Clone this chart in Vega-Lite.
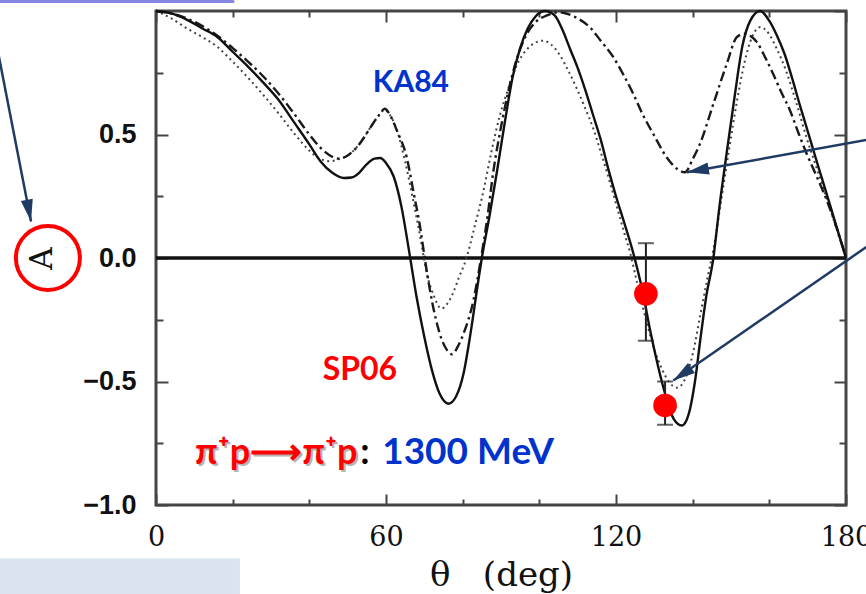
{
  "$schema": "https://vega.github.io/schema/vega-lite/v6.json",
  "width": 690,
  "height": 494,
  "autosize": {"type": "none"},
  "padding": {"left": 156, "top": 11, "right": 20, "bottom": 89},
  "background": "white",
  "config": {
    "view": {"stroke": "#454545", "strokeWidth": 3},
    "axis": {"grid": false, "domain": false}
  },
  "datasets": {
    "fits": [
      {"fit": "SP06", "theta": 0, "A": 1.0}, {"fit": "SP06", "theta": 4, "A": 0.99}, {"fit": "SP06", "theta": 8, "A": 0.965},
      {"fit": "SP06", "theta": 12, "A": 0.93}, {"fit": "SP06", "theta": 16, "A": 0.895}, {"fit": "SP06", "theta": 20, "A": 0.835},
      {"fit": "SP06", "theta": 24, "A": 0.775}, {"fit": "SP06", "theta": 28, "A": 0.71}, {"fit": "SP06", "theta": 32, "A": 0.64},
      {"fit": "SP06", "theta": 36, "A": 0.55}, {"fit": "SP06", "theta": 40, "A": 0.46}, {"fit": "SP06", "theta": 43, "A": 0.39},
      {"fit": "SP06", "theta": 46, "A": 0.345}, {"fit": "SP06", "theta": 49, "A": 0.324}, {"fit": "SP06", "theta": 51, "A": 0.326},
      {"fit": "SP06", "theta": 53, "A": 0.345}, {"fit": "SP06", "theta": 55, "A": 0.38}, {"fit": "SP06", "theta": 57, "A": 0.402},
      {"fit": "SP06", "theta": 58.5, "A": 0.405}, {"fit": "SP06", "theta": 60, "A": 0.385}, {"fit": "SP06", "theta": 62, "A": 0.33},
      {"fit": "SP06", "theta": 64, "A": 0.21}, {"fit": "SP06", "theta": 66, "A": 0.03}, {"fit": "SP06", "theta": 68, "A": -0.16},
      {"fit": "SP06", "theta": 70, "A": -0.32}, {"fit": "SP06", "theta": 72, "A": -0.455}, {"fit": "SP06", "theta": 74, "A": -0.55},
      {"fit": "SP06", "theta": 76.3, "A": -0.59}, {"fit": "SP06", "theta": 78.3, "A": -0.56}, {"fit": "SP06", "theta": 80.2, "A": -0.47},
      {"fit": "SP06", "theta": 82, "A": -0.31}, {"fit": "SP06", "theta": 84, "A": -0.1}, {"fit": "SP06", "theta": 85, "A": 0.0},
      {"fit": "SP06", "theta": 87, "A": 0.17}, {"fit": "SP06", "theta": 89, "A": 0.355}, {"fit": "SP06", "theta": 91, "A": 0.55},
      {"fit": "SP06", "theta": 93, "A": 0.73}, {"fit": "SP06", "theta": 95, "A": 0.85}, {"fit": "SP06", "theta": 97, "A": 0.93},
      {"fit": "SP06", "theta": 99, "A": 0.978}, {"fit": "SP06", "theta": 101.5, "A": 1.0}, {"fit": "SP06", "theta": 104, "A": 0.982},
      {"fit": "SP06", "theta": 106, "A": 0.925}, {"fit": "SP06", "theta": 108, "A": 0.847}, {"fit": "SP06", "theta": 110, "A": 0.77},
      {"fit": "SP06", "theta": 112, "A": 0.68}, {"fit": "SP06", "theta": 114, "A": 0.58}, {"fit": "SP06", "theta": 116, "A": 0.48},
      {"fit": "SP06", "theta": 118, "A": 0.36}, {"fit": "SP06", "theta": 120, "A": 0.25}, {"fit": "SP06", "theta": 122, "A": 0.15},
      {"fit": "SP06", "theta": 124.5, "A": 0.02}, {"fit": "SP06", "theta": 127, "A": -0.14}, {"fit": "SP06", "theta": 129, "A": -0.3},
      {"fit": "SP06", "theta": 131, "A": -0.44}, {"fit": "SP06", "theta": 133, "A": -0.56}, {"fit": "SP06", "theta": 135, "A": -0.65},
      {"fit": "SP06", "theta": 137.2, "A": -0.678}, {"fit": "SP06", "theta": 139, "A": -0.63}, {"fit": "SP06", "theta": 140.6, "A": -0.5},
      {"fit": "SP06", "theta": 142, "A": -0.33}, {"fit": "SP06", "theta": 143.5, "A": -0.16}, {"fit": "SP06", "theta": 145.4, "A": 0.0},
      {"fit": "SP06", "theta": 147, "A": 0.21}, {"fit": "SP06", "theta": 149, "A": 0.44}, {"fit": "SP06", "theta": 151, "A": 0.66},
      {"fit": "SP06", "theta": 153, "A": 0.86}, {"fit": "SP06", "theta": 155, "A": 0.96}, {"fit": "SP06", "theta": 157.6, "A": 1.0},
      {"fit": "SP06", "theta": 160, "A": 0.96}, {"fit": "SP06", "theta": 162, "A": 0.9}, {"fit": "SP06", "theta": 164, "A": 0.825},
      {"fit": "SP06", "theta": 166, "A": 0.725}, {"fit": "SP06", "theta": 168, "A": 0.617}, {"fit": "SP06", "theta": 170, "A": 0.514},
      {"fit": "SP06", "theta": 172, "A": 0.41}, {"fit": "SP06", "theta": 174, "A": 0.308}, {"fit": "SP06", "theta": 176, "A": 0.206},
      {"fit": "SP06", "theta": 178, "A": 0.103}, {"fit": "SP06", "theta": 180, "A": 0.0},

      {"fit": "KA84", "theta": 0, "A": 1.0}, {"fit": "KA84", "theta": 4, "A": 0.99}, {"fit": "KA84", "theta": 8, "A": 0.97},
      {"fit": "KA84", "theta": 12, "A": 0.94}, {"fit": "KA84", "theta": 16, "A": 0.9}, {"fit": "KA84", "theta": 20, "A": 0.85},
      {"fit": "KA84", "theta": 24, "A": 0.795}, {"fit": "KA84", "theta": 28, "A": 0.735}, {"fit": "KA84", "theta": 32, "A": 0.665},
      {"fit": "KA84", "theta": 36, "A": 0.585}, {"fit": "KA84", "theta": 40, "A": 0.5}, {"fit": "KA84", "theta": 43, "A": 0.445},
      {"fit": "KA84", "theta": 46, "A": 0.41}, {"fit": "KA84", "theta": 48, "A": 0.402}, {"fit": "KA84", "theta": 50, "A": 0.415},
      {"fit": "KA84", "theta": 53, "A": 0.46}, {"fit": "KA84", "theta": 56, "A": 0.53}, {"fit": "KA84", "theta": 58, "A": 0.575},
      {"fit": "KA84", "theta": 59.7, "A": 0.604}, {"fit": "KA84", "theta": 61, "A": 0.58}, {"fit": "KA84", "theta": 63, "A": 0.51},
      {"fit": "KA84", "theta": 65.4, "A": 0.408}, {"fit": "KA84", "theta": 67.1, "A": 0.273}, {"fit": "KA84", "theta": 68.9, "A": 0.125},
      {"fit": "KA84", "theta": 70.2, "A": -0.01}, {"fit": "KA84", "theta": 72, "A": -0.175}, {"fit": "KA84", "theta": 74, "A": -0.305},
      {"fit": "KA84", "theta": 76, "A": -0.375}, {"fit": "KA84", "theta": 77.2, "A": -0.39}, {"fit": "KA84", "theta": 79, "A": -0.35},
      {"fit": "KA84", "theta": 80.2, "A": -0.307}, {"fit": "KA84", "theta": 82.8, "A": -0.172}, {"fit": "KA84", "theta": 84.8, "A": 0.0},
      {"fit": "KA84", "theta": 86.5, "A": 0.17}, {"fit": "KA84", "theta": 88, "A": 0.35}, {"fit": "KA84", "theta": 90, "A": 0.53},
      {"fit": "KA84", "theta": 92, "A": 0.68}, {"fit": "KA84", "theta": 94, "A": 0.8}, {"fit": "KA84", "theta": 96.5, "A": 0.9},
      {"fit": "KA84", "theta": 99, "A": 0.955}, {"fit": "KA84", "theta": 102, "A": 0.982}, {"fit": "KA84", "theta": 105, "A": 0.995},
      {"fit": "KA84", "theta": 107, "A": 0.99}, {"fit": "KA84", "theta": 110, "A": 0.97}, {"fit": "KA84", "theta": 113.2, "A": 0.934},
      {"fit": "KA84", "theta": 116, "A": 0.88}, {"fit": "KA84", "theta": 119.3, "A": 0.813}, {"fit": "KA84", "theta": 122, "A": 0.74},
      {"fit": "KA84", "theta": 124.5, "A": 0.665}, {"fit": "KA84", "theta": 127, "A": 0.58}, {"fit": "KA84", "theta": 129.7, "A": 0.503},
      {"fit": "KA84", "theta": 133.2, "A": 0.408}, {"fit": "KA84", "theta": 136, "A": 0.36}, {"fit": "KA84", "theta": 138, "A": 0.347},
      {"fit": "KA84", "theta": 140, "A": 0.4}, {"fit": "KA84", "theta": 141.9, "A": 0.462}, {"fit": "KA84", "theta": 145.4, "A": 0.624},
      {"fit": "KA84", "theta": 148.9, "A": 0.786}, {"fit": "KA84", "theta": 151.5, "A": 0.894}, {"fit": "KA84", "theta": 153.5, "A": 0.908},
      {"fit": "KA84", "theta": 155, "A": 0.9}, {"fit": "KA84", "theta": 156.7, "A": 0.875}, {"fit": "KA84", "theta": 159, "A": 0.81},
      {"fit": "KA84", "theta": 161, "A": 0.745}, {"fit": "KA84", "theta": 163, "A": 0.675}, {"fit": "KA84", "theta": 165.4, "A": 0.597},
      {"fit": "KA84", "theta": 167.5, "A": 0.51}, {"fit": "KA84", "theta": 169.8, "A": 0.42}, {"fit": "KA84", "theta": 172.5, "A": 0.325},
      {"fit": "KA84", "theta": 175, "A": 0.233}, {"fit": "KA84", "theta": 177.5, "A": 0.125}, {"fit": "KA84", "theta": 180, "A": 0.0},

      {"fit": "alt", "theta": 0, "A": 1.0}, {"fit": "alt", "theta": 4, "A": 0.97}, {"fit": "alt", "theta": 8, "A": 0.93},
      {"fit": "alt", "theta": 12, "A": 0.895}, {"fit": "alt", "theta": 16, "A": 0.855}, {"fit": "alt", "theta": 20, "A": 0.795},
      {"fit": "alt", "theta": 24, "A": 0.73}, {"fit": "alt", "theta": 28, "A": 0.66}, {"fit": "alt", "theta": 32, "A": 0.585},
      {"fit": "alt", "theta": 36, "A": 0.505}, {"fit": "alt", "theta": 40, "A": 0.435}, {"fit": "alt", "theta": 43, "A": 0.4},
      {"fit": "alt", "theta": 45.5, "A": 0.392}, {"fit": "alt", "theta": 48, "A": 0.402}, {"fit": "alt", "theta": 50, "A": 0.415},
      {"fit": "alt", "theta": 53, "A": 0.46}, {"fit": "alt", "theta": 56, "A": 0.53}, {"fit": "alt", "theta": 58, "A": 0.575},
      {"fit": "alt", "theta": 59.7, "A": 0.6}, {"fit": "alt", "theta": 61, "A": 0.58}, {"fit": "alt", "theta": 63, "A": 0.51},
      {"fit": "alt", "theta": 65, "A": 0.39}, {"fit": "alt", "theta": 67, "A": 0.24}, {"fit": "alt", "theta": 69, "A": 0.08},
      {"fit": "alt", "theta": 70.6, "A": -0.06}, {"fit": "alt", "theta": 72.3, "A": -0.145}, {"fit": "alt", "theta": 74.5, "A": -0.205},
      {"fit": "alt", "theta": 76, "A": -0.185}, {"fit": "alt", "theta": 77.4, "A": -0.145}, {"fit": "alt", "theta": 79, "A": -0.08},
      {"fit": "alt", "theta": 81, "A": 0.0}, {"fit": "alt", "theta": 83, "A": 0.12}, {"fit": "alt", "theta": 85.4, "A": 0.27},
      {"fit": "alt", "theta": 87.5, "A": 0.43}, {"fit": "alt", "theta": 89.7, "A": 0.577}, {"fit": "alt", "theta": 92, "A": 0.69},
      {"fit": "alt", "theta": 94.1, "A": 0.78}, {"fit": "alt", "theta": 96.5, "A": 0.84}, {"fit": "alt", "theta": 99, "A": 0.872},
      {"fit": "alt", "theta": 101, "A": 0.88}, {"fit": "alt", "theta": 103, "A": 0.865}, {"fit": "alt", "theta": 105.4, "A": 0.82},
      {"fit": "alt", "theta": 107.5, "A": 0.76}, {"fit": "alt", "theta": 109.8, "A": 0.685}, {"fit": "alt", "theta": 112, "A": 0.605},
      {"fit": "alt", "theta": 114.1, "A": 0.523}, {"fit": "alt", "theta": 116, "A": 0.43}, {"fit": "alt", "theta": 118.4, "A": 0.307},
      {"fit": "alt", "theta": 120, "A": 0.22}, {"fit": "alt", "theta": 122, "A": 0.11}, {"fit": "alt", "theta": 123.7, "A": 0.02},
      {"fit": "alt", "theta": 125.5, "A": -0.1}, {"fit": "alt", "theta": 128, "A": -0.26}, {"fit": "alt", "theta": 130, "A": -0.37},
      {"fit": "alt", "theta": 132, "A": -0.45}, {"fit": "alt", "theta": 134, "A": -0.505}, {"fit": "alt", "theta": 136, "A": -0.525},
      {"fit": "alt", "theta": 138, "A": -0.49}, {"fit": "alt", "theta": 140, "A": -0.39}, {"fit": "alt", "theta": 142, "A": -0.23},
      {"fit": "alt", "theta": 144, "A": -0.07}, {"fit": "alt", "theta": 145.6, "A": 0.05}, {"fit": "alt", "theta": 147.5, "A": 0.24},
      {"fit": "alt", "theta": 149.5, "A": 0.44}, {"fit": "alt", "theta": 151.5, "A": 0.63}, {"fit": "alt", "theta": 153.5, "A": 0.79},
      {"fit": "alt", "theta": 155.5, "A": 0.895}, {"fit": "alt", "theta": 157.7, "A": 0.935}, {"fit": "alt", "theta": 160, "A": 0.905},
      {"fit": "alt", "theta": 162, "A": 0.845}, {"fit": "alt", "theta": 164.5, "A": 0.752}, {"fit": "alt", "theta": 167, "A": 0.63},
      {"fit": "alt", "theta": 169.8, "A": 0.483}, {"fit": "alt", "theta": 172, "A": 0.38}, {"fit": "alt", "theta": 175, "A": 0.24},
      {"fit": "alt", "theta": 177.5, "A": 0.12}, {"fit": "alt", "theta": 180, "A": 0.0}
    ],
    "obs": [
      {"theta": 127.8, "A": -0.145, "lo": -0.335, "hi": 0.06},
      {"theta": 132.8, "A": -0.597, "lo": -0.675, "hi": -0.5}
    ],
    "pointers": [
      {"id": "title", "theta": -43.8, "A": 1.04, "theta2": -32.6, "A2": 0.148},
      {"id": "ka84", "theta": 188.9, "A": 0.488, "theta2": 138.5, "A2": 0.347},
      {"id": "sp06", "theta": 188.9, "A": 0.083, "theta2": 134.96, "A2": -0.496}
    ]
  },
  "resolve": {"axis": {"x": "independent", "y": "independent"}},
  "layer": [
    {
      "description": "pale panel at the lower left",
      "data": {"values": [{"theta": -41, "theta2": 21.9, "A": -1.217, "A2": -1.42}]},
      "mark": {"type": "rect", "color": "#dae3f0", "clip": false},
      "encoding": {
        "x": {"field": "theta", "type": "quantitative", "scale": {"domain": [0, 180], "nice": false, "zero": false}, "axis": null},
        "x2": {"field": "theta2"},
        "y": {"field": "A", "type": "quantitative", "scale": {"domain": [-1, 1], "nice": false, "zero": false}, "axis": null},
        "y2": {"field": "A2"}
      }
    },
    {
      "description": "edge of the box above the plot",
      "data": {"values": [{"theta": -41, "theta2": 20.1, "A": 1.0385}]},
      "mark": {"type": "rule", "color": "#8585e2", "strokeWidth": 3, "strokeCap": "round", "clip": false},
      "encoding": {
        "x": {"field": "theta", "type": "quantitative", "axis": null},
        "x2": {"field": "theta2"},
        "y": {"field": "A", "type": "quantitative", "axis": null}
      }
    },
    {
      "description": "A = 0 reference line",
      "data": {"values": [{"A": 0}]},
      "mark": {"type": "rule", "color": "#111", "strokeWidth": 3.5},
      "encoding": {
        "y": {"field": "A", "type": "quantitative", "axis": null}
      }
    },
    {
      "description": "dotted fit; carries the minor ticks on the bottom and left",
      "data": {"name": "fits"},
      "transform": [{"filter": "datum.fit === 'alt'"}],
      "mark": {"type": "line", "color": "#444", "strokeWidth": 2, "strokeDash": [2, 3.5], "interpolate": "monotone"},
      "encoding": {
        "x": {
          "field": "theta", "type": "quantitative",
          "axis": {"orient": "bottom", "values": [20, 40, 80, 100, 140, 160], "labels": false, "title": null,
                   "domain": false, "grid": false, "tickColor": "#444", "tickWidth": 2, "tickSize": -6}
        },
        "y": {
          "field": "A", "type": "quantitative",
          "axis": {"orient": "left", "values": [-0.75, -0.25, 0.25, 0.75], "labels": false, "title": null,
                   "domain": false, "grid": false, "tickColor": "#444", "tickWidth": 2, "tickSize": -7}
        }
      }
    },
    {
      "description": "KA84, dash-dot; carries the major ticks on the top and right",
      "data": {"name": "fits"},
      "transform": [{"filter": "datum.fit === 'KA84'"}],
      "mark": {"type": "line", "color": "#1a1a1a", "strokeWidth": 2.4, "strokeDash": [10, 4, 2.5, 4], "interpolate": "monotone"},
      "encoding": {
        "x": {
          "field": "theta", "type": "quantitative",
          "axis": {"orient": "top", "values": [0, 60, 120, 180], "labels": false, "title": null,
                   "domain": false, "grid": false, "tickColor": "#444", "tickWidth": 2, "tickSize": -11}
        },
        "y": {
          "field": "A", "type": "quantitative",
          "axis": {"orient": "right", "values": [-1, -0.5, 0, 0.5, 1], "labels": false, "title": null,
                   "domain": false, "grid": false, "tickColor": "#444", "tickWidth": 2, "tickSize": -12}
        }
      }
    },
    {
      "description": "SP06, solid; carries the labelled bottom and left axes",
      "data": {"name": "fits"},
      "transform": [{"filter": "datum.fit === 'SP06'"}],
      "mark": {"type": "line", "color": "#111", "strokeWidth": 2.4, "interpolate": "monotone"},
      "encoding": {
        "x": {
          "field": "theta", "type": "quantitative",
          "axis": {
            "orient": "bottom", "values": [0, 60, 120, 180], "format": "d",
            "labelFont": "DejaVu Serif", "labelFontSize": 27, "labelColor": "#111",
            "labelPadding": 30, "labelFlush": false, "labelOverlap": false, "labelBound": false,
            "domain": false, "grid": false, "tickColor": "#444", "tickWidth": 2, "tickSize": -11,
            "title": "θ\u00a0\u00a0\u00a0(deg)", "titleFont": "DejaVu Serif", "titleFontSize": 34, "titleFontWeight": "normal",
            "titleColor": "#111", "titlePadding": 8
          }
        },
        "y": {
          "field": "A", "type": "quantitative",
          "axis": {
            "orient": "left", "values": [-1, -0.5, 0, 0.5, 1], "format": ".1f",
            "labelExpr": "datum.value < 1 ? datum.label : ''",
            "labelFont": "Liberation Sans", "labelFontWeight": "bold", "labelFontSize": 27, "labelColor": "#111",
            "labelPadding": 32, "labelFlush": false, "labelOverlap": false, "labelBound": false,
            "domain": false, "grid": false, "tickColor": "#444", "tickWidth": 2, "tickSize": -12,
            "title": "A", "titleFont": "DejaVu Serif", "titleFontSize": 31, "titleFontWeight": "normal",
            "titleColor": "#111", "titlePadding": 24
          }
        }
      }
    },
    {
      "description": "measured points: error bars",
      "data": {"name": "obs"},
      "mark": {"type": "errorbar", "color": "#222", "ticks": {"size": 16, "thickness": 2}, "rule": {"strokeWidth": 2}},
      "encoding": {
        "x": {"field": "theta", "type": "quantitative", "axis": null},
        "y": {"field": "lo", "type": "quantitative", "axis": null},
        "y2": {"field": "hi"}
      }
    },
    {
      "description": "measured points; carries the minor ticks on the top and right",
      "data": {"name": "obs"},
      "mark": {"type": "point", "filled": true, "color": "#ff0000", "opacity": 1, "size": 560},
      "encoding": {
        "x": {
          "field": "theta", "type": "quantitative",
          "axis": {"orient": "top", "values": [20, 40, 80, 100, 140, 160], "labels": false, "title": null,
                   "domain": false, "grid": false, "tickColor": "#444", "tickWidth": 2, "tickSize": -6}
        },
        "y": {
          "field": "A", "type": "quantitative",
          "axis": {"orient": "right", "values": [-0.75, -0.25, 0.25, 0.75], "labels": false, "title": null,
                   "domain": false, "grid": false, "tickColor": "#444", "tickWidth": 2, "tickSize": -7}
        }
      }
    },
    {
      "data": {"values": [{"theta": 66.5, "A": 0.674, "label": "KA84"}]},
      "mark": {"type": "text", "font": "Lato", "fontWeight": "bold", "fontSize": 30, "color": "#0033cc", "align": "center", "baseline": "alphabetic"},
      "encoding": {
        "x": {"field": "theta", "type": "quantitative", "axis": null},
        "y": {"field": "A", "type": "quantitative", "axis": null},
        "text": {"field": "label"}
      }
    },
    {
      "data": {"values": [{"theta": 53.2, "A": -0.492, "label": "SP06"}]},
      "mark": {"type": "text", "font": "Lato", "fontWeight": "bold", "fontSize": 32, "color": "#ff0000", "align": "center", "baseline": "alphabetic"},
      "encoding": {
        "x": {"field": "theta", "type": "quantitative", "axis": null},
        "y": {"field": "A", "type": "quantitative", "axis": null},
        "text": {"field": "label"}
      }
    },
    {
      "description": "soft shadow under the reaction label",
      "data": {"values": [{"theta": 10.2, "A": -0.832, "label": "π⁺p⟶π⁺p"}]},
      "mark": {"type": "text", "font": "Lato", "fontWeight": "bold", "fontSize": 36, "color": "#777", "opacity": 0.55, "align": "left", "baseline": "alphabetic", "dx": 2, "dy": 2},
      "encoding": {
        "x": {"field": "theta", "type": "quantitative", "axis": null},
        "y": {"field": "A", "type": "quantitative", "axis": null},
        "text": {"field": "label"}
      }
    },
    {
      "data": {"values": [{"theta": 10.2, "A": -0.832, "label": "π⁺p⟶π⁺p"}]},
      "mark": {"type": "text", "font": "Lato", "fontWeight": "bold", "fontSize": 36, "color": "#ff0000", "align": "left", "baseline": "alphabetic"},
      "encoding": {
        "x": {"field": "theta", "type": "quantitative", "axis": null},
        "y": {"field": "A", "type": "quantitative", "axis": null},
        "text": {"field": "label"}
      }
    },
    {
      "data": {"values": [{"theta": 53.3, "A": -0.832, "label": ":"}]},
      "mark": {"type": "text", "font": "Lato", "fontWeight": "bold", "fontSize": 36, "color": "#000", "align": "left", "baseline": "alphabetic"},
      "encoding": {
        "x": {"field": "theta", "type": "quantitative", "axis": null},
        "y": {"field": "A", "type": "quantitative", "axis": null},
        "text": {"field": "label"}
      }
    },
    {
      "data": {"values": [{"theta": 59.0, "A": -0.832, "label": "1300 MeV"}]},
      "mark": {"type": "text", "font": "Lato", "fontWeight": "bold", "fontSize": 37, "color": "#0033cc", "align": "left", "baseline": "alphabetic"},
      "encoding": {
        "x": {"field": "theta", "type": "quantitative", "axis": null},
        "y": {"field": "A", "type": "quantitative", "axis": null},
        "text": {"field": "label"}
      }
    },
    {
      "description": "pointer shafts",
      "data": {"name": "pointers"},
      "mark": {"type": "rule", "color": "#1f3a63", "strokeWidth": 2.5, "clip": false},
      "encoding": {
        "x": {"field": "theta", "type": "quantitative", "axis": null},
        "x2": {"field": "theta2"},
        "y": {"field": "A", "type": "quantitative", "axis": null},
        "y2": {"field": "A2"}
      }
    },
    {
      "description": "pointer head toward the axis title",
      "data": {"name": "pointers"},
      "transform": [{"filter": "datum.id === 'title'"}],
      "mark": {"type": "point", "shape": "M0,0L-0.55,2L0.55,2Z", "filled": true, "opacity": 1, "color": "#1f3a63", "size": 484, "angle": 168.9, "clip": false},
      "encoding": {
        "x": {"field": "theta2", "type": "quantitative", "axis": null},
        "y": {"field": "A2", "type": "quantitative", "axis": null}
      }
    },
    {
      "description": "pointer head toward the KA84 minimum",
      "data": {"name": "pointers"},
      "transform": [{"filter": "datum.id === 'ka84'"}],
      "mark": {"type": "point", "shape": "M0,0L-0.55,2L0.55,2Z", "filled": true, "opacity": 1, "color": "#1f3a63", "size": 484, "angle": 260, "clip": false},
      "encoding": {
        "x": {"field": "theta2", "type": "quantitative", "axis": null},
        "y": {"field": "A2", "type": "quantitative", "axis": null}
      }
    },
    {
      "description": "pointer head toward the SP06 minimum",
      "data": {"name": "pointers"},
      "transform": [{"filter": "datum.id === 'sp06'"}],
      "mark": {"type": "point", "shape": "M0,0L-0.55,2L0.55,2Z", "filled": true, "opacity": 1, "color": "#1f3a63", "size": 484, "angle": 235.3, "clip": false},
      "encoding": {
        "x": {"field": "theta2", "type": "quantitative", "axis": null},
        "y": {"field": "A2", "type": "quantitative", "axis": null}
      }
    },
    {
      "description": "ring around the axis title",
      "data": {"values": [{"theta": -28.2, "A": 0.0}]},
      "mark": {"type": "point", "shape": "circle", "filled": false, "color": "#ff0000", "strokeWidth": 4, "opacity": 1, "size": 4096, "clip": false},
      "encoding": {
        "x": {"field": "theta", "type": "quantitative", "axis": null},
        "y": {"field": "A", "type": "quantitative", "axis": null}
      }
    }
  ]
}
